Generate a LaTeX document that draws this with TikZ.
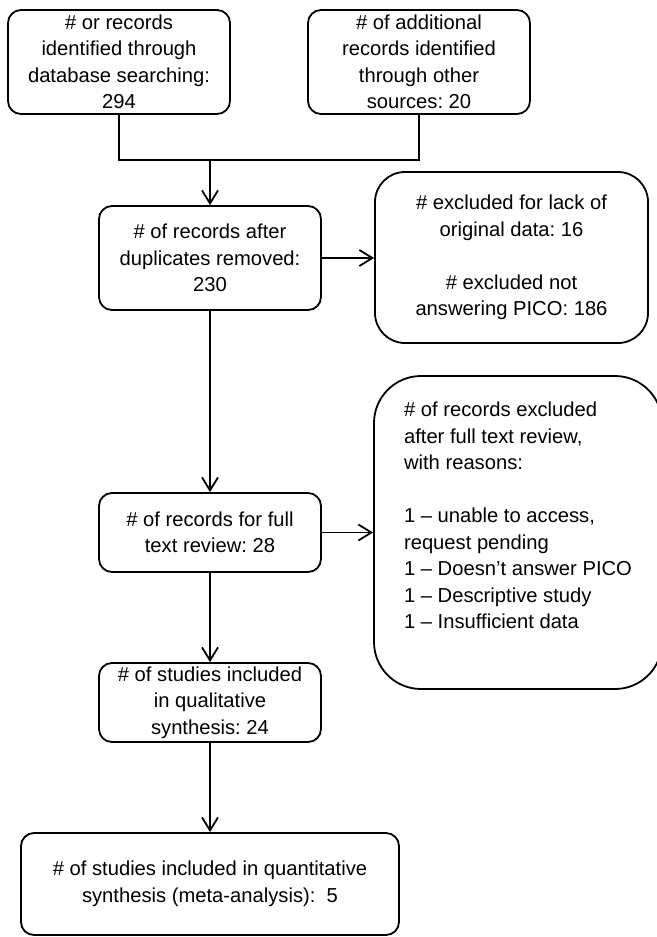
\documentclass[tikz,border=0pt]{standalone}
\usepackage{fontspec}
\setmainfont{Liberation Sans}
\usetikzlibrary{arrows.meta}
\begin{document}
\frenchspacing
\begin{tikzpicture}[x=1pt,y=-1pt,
  box/.style={draw, line width=1.8pt, rounded corners=13pt, inner sep=0pt, align=center,
    font=\fontsize{20.2}{26.5}\selectfont\frenchspacing},
  arr/.style={line width=1.8pt, -{Straight Barb[length=13pt,width=16pt,line width=1.8pt]}},
  conn/.style={line width=1.8pt}]
\useasboundingbox (0,0) rectangle (656,937);
\node[box, minimum width=222pt, minimum height=104pt] (b1) at (119,62)
  {\# or records\\identified through\\database searching:\\294};
\node[box, minimum width=222pt, minimum height=104pt] (b2) at (419,62)
  {\# of additional\\records identified\\through other\\sources: 20};
\node[box, minimum width=222pt, minimum height=104pt] (b3) at (210,258)
  {\# of records after\\duplicates removed:\\230};
\node[box, rounded corners=30pt, minimum width=273pt, minimum height=171pt] (e1) at (511.5,257.5)
  {\# excluded for lack of\\original data: 16\\ \strut\\\# excluded not\\answering PICO: 186};
\node[box, minimum width=222pt, minimum height=79pt] (b4) at (210,532.5)
  {\# of records for full\\text review: 28};
\node[box, rounded corners=47pt, minimum width=288pt, minimum height=313pt, align=left] (e2) at (518,532.5)
  {\# of records excluded\\after full text review,\\with reasons:\\ \strut\\1 -- unable to access,\\request pending\\1 -- Doesn't answer PICO\\1 -- Descriptive study\\1 -- Insufficient data\\ \strut};
\node[box, minimum width=222pt, minimum height=79pt] (b5) at (210,702.5)
  {\# of studies included\\in qualitative\\synthesis: 24};
\node[box, minimum width=378pt, minimum height=102pt] (b6) at (210,884)
  {\# of studies included in quantitative\\synthesis (meta-analysis): \ 5};
\coordinate (m) at (210,160);
\draw[conn] (b1.south) |- (b2.south |- m) -- (b2.south);
\draw[arr] (m) -- (b3.north);
\draw[arr] (b3.east) -- (b3.east -| e1.west);
\draw[arr] (b3.south) -- (b4.north);
\draw[arr] (b4.east) -- (b4.east -| e2.west);
\draw[arr] (b4.south) -- (b5.north);
\draw[arr] (b5.south) -- (b6.north);
\end{tikzpicture}
\end{document}
